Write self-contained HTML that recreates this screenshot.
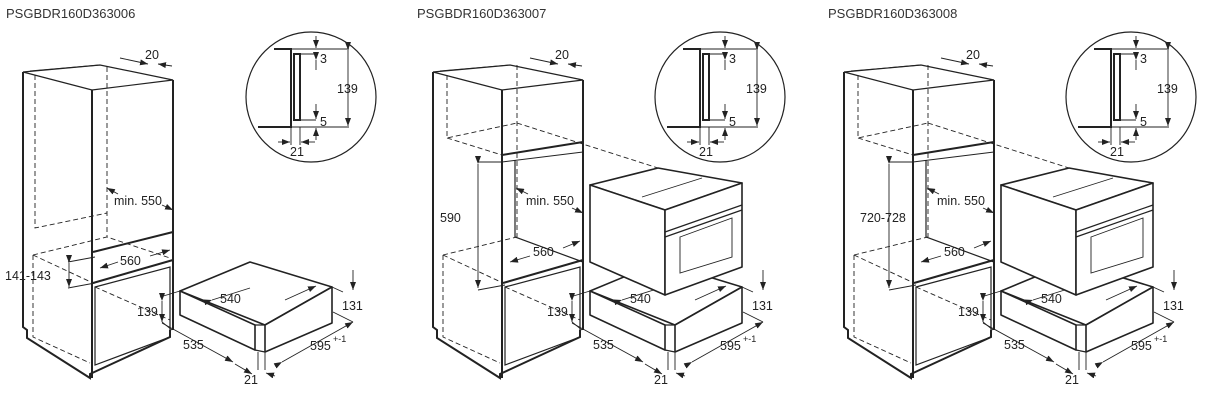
<!DOCTYPE html>
<html><head><meta charset="utf-8"><style>
html,body{margin:0;padding:0;background:#fff;}
svg{display:block;}
text{font-family:"Liberation Sans",sans-serif;fill:#222;}
.t{font-size:13px;fill:#333;}
.d{font-size:12.5px;}
.k{stroke:#222;fill:none;stroke-width:2;}
.m{stroke:#222;fill:none;stroke-width:1.2;}
.th{stroke:#222;fill:none;stroke-width:0.9;}
.ds{stroke:#222;fill:none;stroke-width:0.9;stroke-dasharray:5,3;}
.w{fill:#fff;stroke:#222;stroke-width:1.6;stroke-linejoin:round;}
</style></head><body>
<svg width="1208" height="408" viewBox="0 0 1208 408" xmlns="http://www.w3.org/2000/svg">
<defs>
<marker id="a" markerWidth="8" markerHeight="6" refX="8" refY="3" orient="auto" markerUnits="userSpaceOnUse"><path d="M0,0 L8,3 L0,6 z" fill="#222"/></marker>
<g id="circ">
 <circle cx="311" cy="97" r="65" class="m"/>
 <path d="M274,49 H291 V127 H258" class="k"/>
 <path d="M291,49 H349 M291,127 H349" class="th"/>
 <rect x="294" y="54" width="6" height="66" class="k" stroke-width="1.6"/>
 <path d="M300,54 H316 M300,120 H316" class="th"/>
 <path d="M316,60 V70" class="th" marker-start="url(#a)"/>
 <path d="M316,36 V48" class="th" marker-end="url(#a)"/>
 <path d="M316,104 V119" class="th" marker-end="url(#a)"/>
 <path d="M316,140 V128" class="th" marker-end="url(#a)"/>
 <path d="M348,50 V126" class="th" marker-start="url(#a)" marker-end="url(#a)"/>
 <text x="320" y="63" class="d">3</text><text x="320" y="126" class="d">5</text>
 <text x="337" y="93" class="d">139</text>
 <path d="M291,127 V145 M300,127 V145" class="th"/>
 <path d="M278,142 H290" class="th" marker-end="url(#a)"/>
 <path d="M315,142 H301" class="th" marker-end="url(#a)"/>
 <text x="290" y="156" class="d">21</text>
</g>
<g id="cab">
 <path d="M23,72 L23,327 L27,330 L27,338 L90,378 L90,374 L170,337 L170,330" class="k"/>
 <path d="M23,72 L100,65 L173,80 L92,90 Z" class="m"/>
 <path d="M92,90 V378 M173,80 V330" class="k"/>
 <path d="M95,287 L170,267 V337 L95,365 Z" class="m"/>
 <path d="M93,283 L173,260" class="k" stroke-width="2.5"/>
 <path d="M33,255 V337 L90,363" class="ds"/>
 <path d="M33,255 L93,283" class="ds"/>
 <path d="M95,287 L170,320" class="ds"/>
 <path d="M30,71 L100,65" class="th"/>
 <path d="M120,58 L148,64" class="th" marker-end="url(#a)"/>
 <path d="M172,66 L158,64" class="th" marker-end="url(#a)"/>
 <text x="145" y="59" class="d">20</text>
</g>
<g id="drw">
 <path d="M180,291 L250,262 L332,287 L265,325 Z" class="w"/>
 <path d="M180,291 V315 L255,350 V325 L180,291 Z" class="w"/>
 <path d="M265,325 V352 L332,323 V287 Z" class="w"/>
 <path d="M255,325 L265,325 M255,350 L265,352" class="m"/>
 <path d="M332,287 L343,292 M333,312 L353,322 M265,352 V370 M258,352 V370" class="th"/>
 <path d="M353,270 V290" class="th" marker-end="url(#a)"/>
 <text x="342" y="310" class="d">131</text>
 <path d="M282,362 L353,322" class="th" marker-start="url(#a)" marker-end="url(#a)"/>
 <text x="310" y="350" class="d">595</text><text x="333" y="342" style="font-size:9px">+-1</text>
 <path d="M162,323 L233,362" class="th" marker-end="url(#a)"/>
 <text x="183" y="349" class="d">535</text>
 <path d="M235,364 L252,374" class="th" marker-end="url(#a)"/>
 <path d="M275,376 L266,373" class="th" marker-end="url(#a)"/>
 <text x="244" y="384" class="d">21</text>
 <path d="M212,300 L250,288" class="th" marker-start="url(#a)"/>
 <path d="M285,300 L316,286" class="th" marker-end="url(#a)"/>
 <text x="220" y="303" class="d">540</text>
 <path d="M162,301 V322" class="th" marker-start="url(#a)" marker-end="url(#a)"/>
 <path d="M160,297 L180,291 M162,322 L172,330" class="th"/>
 <text x="137" y="316" class="d">139</text>
</g>
<g id="oven">
 <path d="M590,185 L658,168 L742,183 L665,210 Z" class="w"/>
 <path d="M590,185 V262 L665,295 V210 Z" class="w"/>
 <path d="M665,210 L742,183 V267 L665,295 Z" class="w"/>
 <path d="M665,232 L742,205 M665,237 L742,210" class="m"/>
 <path d="M680,237 L732,218 V257 L680,273 Z" class="th"/>
 <path d="M642,197 L702,178" class="th"/>
</g>
<g id="cab2">
 <path d="M447,75 V138 L517,123 M447,138 L502,155 M517,123 L658,168" class="ds"/>
 <path d="M517,65 V237" class="ds"/>
 <path d="M502,155 L583,142" class="k" stroke-width="2.5"/>
 <path d="M515,160 V237 L583,262" class="m"/>
 <path d="M443,255 L517,237" class="ds"/>
 <path d="M502,162 L583,152" class="th"/>
 <path d="M478,164 V288" class="th" marker-start="url(#a)" marker-end="url(#a)"/>
 <path d="M478,162 L502,162 M478,290 L505,285" class="th"/>
 <path d="M528,194 L516,188" class="th" marker-end="url(#a)"/>
 <path d="M572,208 L583,213" class="th" marker-end="url(#a)"/>
 <text x="526" y="205" class="d">min. 550</text>
 <path d="M530,256 L510,262" class="th" marker-end="url(#a)"/>
 <path d="M563,248 L580,241" class="th" marker-end="url(#a)"/>
 <text x="533" y="256" class="d">560</text>
</g>
</defs>

<text x="6" y="18" class="t">PSGBDR160D363006</text>
<text x="417" y="18" class="t">PSGBDR160D363007</text>
<text x="828" y="18" class="t">PSGBDR160D363008</text>

<!-- Panel 1 -->
<use href="#circ"/>
<use href="#cab"/>
<use href="#drw"/>
<path d="M35,75 V228 L107,213 M107,67 V237 M33,255 L107,237 L170,258" class="ds"/>
<path d="M93,252 L173,232" class="k" stroke-width="2.5"/>
<path d="M68,262 L95,257 M68,288 L95,283" class="th"/>
<path d="M69,263 V287" class="th" marker-start="url(#a)" marker-end="url(#a)"/>
<text x="5" y="280" class="d">141-143</text>
<path d="M118,262 L100,268" class="th" marker-end="url(#a)"/>
<path d="M150,256 L170,250" class="th" marker-end="url(#a)"/>
<text x="120" y="265" class="d">560</text>
<path d="M118,194 L107,188" class="th" marker-end="url(#a)"/>
<path d="M162,205 L173,210" class="th" marker-end="url(#a)"/>
<text x="114" y="205" class="d">min. 550</text>

<!-- Panel 2 -->
<use href="#circ" transform="translate(409,0)"/>
<use href="#cab" transform="translate(410,0)"/>
<use href="#cab2"/>
<use href="#drw" transform="translate(410,0)"/>
<use href="#oven"/>
<text x="440" y="222" class="d">590</text>

<!-- Panel 3 -->
<use href="#circ" transform="translate(820,0)"/>
<use href="#cab" transform="translate(821,0)"/>
<use href="#cab2" transform="translate(411,0)"/>
<use href="#drw" transform="translate(821,0)"/>
<use href="#oven" transform="translate(411,0)"/>
<text x="860" y="222" class="d">720-728</text>
</svg>
</body></html>
